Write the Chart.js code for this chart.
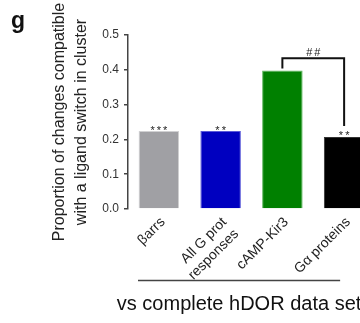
<!DOCTYPE html>
<html>
<head>
<meta charset="utf-8">
<script src="https://cdn.jsdelivr.net/npm/chart.js@4.4.0/dist/chart.umd.min.js"></script>
<style>
html, body { margin: 0; padding: 0; background: #fff; overflow: hidden; }
#wrap { width: 380px; height: 323px; }
</style>
</head>
<body>
<div id="wrap"><canvas id="prop-chart" width="380" height="323"></canvas></div>
<script>
// Proportion of changes compatible with a ligand switch - vs complete hDOR data set

var PropLabels = [
	'βarrs',
	['All G prot', 'responses'],
	'cAMP-Kir3',
	'Gα proteins',
];
var PropValues = [
	0.224,
	0.224,
	0.398,
	0.207,
];
var PropColors = [
	'#a0a0a4',
	'#0000c0',
	'#008000',
	'#000000',
];
var PropBorders = [
	'#d0d0d2',
	'#5a5ad8',
	'#5cb85c',
	'#333333',
];
var PropStars = [
	'***',
	'**',
	'',
	'**',
];
var PropBracket = { from: 2, to: 3, level: 0.433, text: '##' };
var PropYTitle = ['Proportion of changes compatible', 'with a ligand switch in cluster'];
var PropXTitle = 'vs complete hDOR data set';
var PropPanel = 'g';

var FONT = '"Liberation Sans", Arial, Helvetica, sans-serif';
Chart.defaults.font.family = FONT;
Chart.defaults.color = '#222';

// stars, bracket, panel letter and group caption
var PropExtras = {
	id: 'propExtras',
	afterDraw: function(chart) {
		var ctx = chart.ctx;
		var xs = chart.scales.x, ys = chart.scales.y;
		ctx.save();

		ctx.fillStyle = '#222';
		ctx.font = '11px ' + FONT;
		ctx.textAlign = 'center';
		ctx.textBaseline = 'alphabetic';
		if ('letterSpacing' in ctx) ctx.letterSpacing = '2px';
		PropStars.forEach(function(s, i) {
			if (!s) return;
			ctx.fillText(s, xs.getPixelForValue(i) + 1, ys.getPixelForValue(PropValues[i]) + 2.5);
		});

		// bracket
		var x1 = xs.getPixelForValue(PropBracket.from);
		var x2 = xs.getPixelForValue(PropBracket.to);
		var yl = ys.getPixelForValue(PropBracket.level);
		ctx.strokeStyle = '#111';
		ctx.lineWidth = 2;
		ctx.beginPath();
		ctx.moveTo(x1, ys.getPixelForValue(PropValues[PropBracket.from]) - 2);
		ctx.lineTo(x1, yl);
		ctx.lineTo(x2, yl);
		ctx.lineTo(x2, ys.getPixelForValue(PropValues[PropBracket.to]) - 11);
		ctx.stroke();
		ctx.fillText(PropBracket.text, (x1 + x2) / 2 + 1, yl - 2);
		if ('letterSpacing' in ctx) ctx.letterSpacing = '0px';

		// group line + caption
		var lx1 = chart.chartArea.left + 10;
		var lx2 = x2 - 4;
		var ly = 280.5;
		ctx.strokeStyle = '#444';
		ctx.lineWidth = 1.5;
		ctx.beginPath();
		ctx.moveTo(lx1, ly);
		ctx.lineTo(lx2, ly);
		ctx.stroke();
		ctx.fillStyle = '#111';
		ctx.font = '20px ' + FONT;
		ctx.fillText(PropXTitle, (lx1 + lx2) / 2, 309.5);

		// panel letter
		ctx.textAlign = 'left';
		ctx.font = 'bold 23px ' + FONT;
		ctx.fillText(PropPanel, 11, 27.5);
		ctx.restore();
	}
};

window.addEventListener('load', function() {
	var propCtx = document.getElementById('prop-chart').getContext('2d');
	var propChart = new Chart(propCtx, {
		type: 'bar',
		data: {
			labels: PropLabels,
			datasets: [{
				data: PropValues,
				backgroundColor: PropColors,
				borderColor: PropBorders,
				borderWidth: 1,
				barPercentage: 0.656,
				categoryPercentage: 1,
			}]
		},
		options: {
			responsive: false,
			maintainAspectRatio: false,
			animation: false,
			layout: {
				padding: { left: 0, right: 5, top: 35, bottom: 0 }
			},
			plugins: {
				legend: { display: false },
				tooltip: { enabled: false },
			},
			scales: {
				x: {
					grid: { display: false, tickLength: 4 },
					border: { display: false },
					ticks: {
						minRotation: 45,
						maxRotation: 45,
						padding: 1,
						labelOffset: 4,
						color: '#222',
						font: { size: 14 },
					},
					afterFit: function(scale) { scale.height = 114; }
				},
				y: {
					min: 0,
					max: 0.5,
					grid: {
						drawOnChartArea: false,
						tickLength: 4,
						color: '#444',
						lineWidth: 1.5,
					},
					border: { color: '#444', width: 1.5 },
					ticks: {
						stepSize: 0.1,
						padding: 5,
						color: '#333',
						font: { size: 12 },
						callback: function(v) { return v.toFixed(1); }
					},
					title: {
						display: true,
						text: PropYTitle,
						color: '#222',
						font: { size: 16, lineHeight: 1.35 },
						padding: { top: 49, bottom: 0 },
					},
					afterFit: function(scale) { scale.width = 128; }
				}
			}
		},
		plugins: [PropExtras]
	});
});
</script>
</body>
</html>
